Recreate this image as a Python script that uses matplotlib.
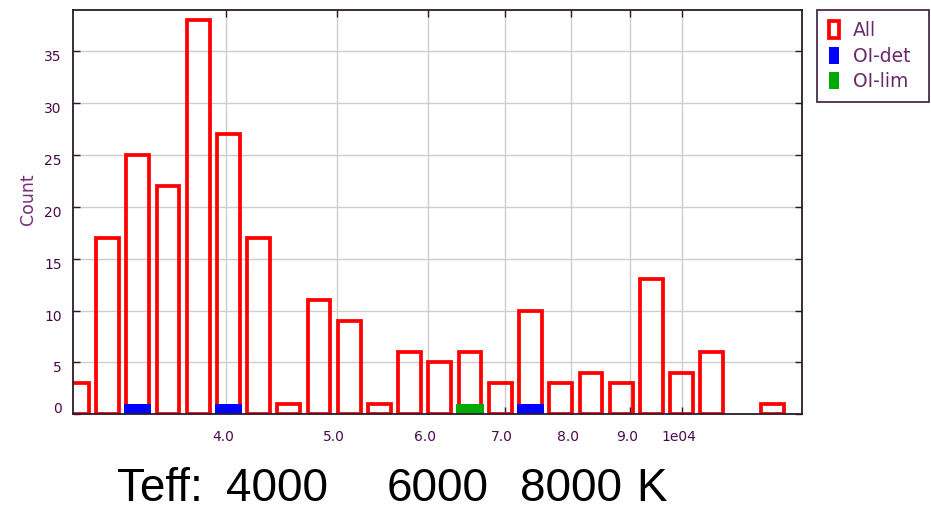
import numpy as np
import matplotlib
matplotlib.use('Agg')
import matplotlib.pyplot as plt
from matplotlib.ticker import NullLocator
from matplotlib.transforms import ScaledTranslation

# Teff histogram, bins equally spaced in log10(Teff)
LOGT_FIRST_BIN = 3.4724    # centre of first bin, log10(K)
LOGT_BIN_WIDTH = 0.02635   # dex

counts_all = [3, 17, 25, 22, 38, 27, 17, 1, 11, 9, 1, 6,
              5, 6, 3, 10, 3, 4, 3, 13, 4, 6, 0, 1]
counts_det = [0, 0, 1, 0, 0, 1, 0, 0, 0, 0, 0, 0,
              0, 0, 0, 1, 0, 0, 0, 0, 0, 0, 0, 0]
counts_lim = [0, 0, 0, 0, 0, 0, 0, 0, 0, 0, 0, 0,
              0, 1, 0, 0, 0, 0, 0, 0, 0, 0, 0, 0]
series_labels = ['All', 'OI-det', 'OI-lim']

xtick_vals = [4000, 5000, 6000, 7000, 8000, 9000, 10000]
xtick_labels = ['4.0', '5.0', '6.0', '7.0', '8.0', '9.0', '1e04']
ytick_vals = [0, 5, 10, 15, 20, 25, 30, 35]

caption_parts = ['Teff:', '4000', '6000', '8000', 'K']

W, H = 931, 512
INK = '#2a1a2a'
PURPLE = '#4a0a4a'

fig = plt.figure(figsize=(W / 100, H / 100), dpi=100)
ax = fig.add_axes([73 / W, 1 - 414.3 / H, (802 - 73) / W, (414.3 - 9.7) / H])

logc = LOGT_FIRST_BIN + LOGT_BIN_WIDTH * np.arange(len(counts_all))


def bar_edges(frac):
    lo = 10 ** (logc - frac * LOGT_BIN_WIDTH / 2)
    hi = 10 ** (logc + frac * LOGT_BIN_WIDTH / 2)
    return lo, hi - lo


def draw(counts, frac, **kw):
    counts = np.asarray(counts)
    lo, w = bar_edges(frac)
    m = counts > 0
    return ax.bar(lo[m], counts[m], width=w[m], align='edge', **kw)


b_all = draw(counts_all, 0.755, fill=False, edgecolor='#ff0000',
             linewidth=2.7, zorder=2)
b_det = draw(counts_det, 0.91, color='#0000ff', linewidth=0, zorder=3)
b_lim = draw(counts_lim, 0.91, color='#00aa00', linewidth=0, zorder=3)

ax.set_xscale('log')
ax.set_xlim(2942, 12718)
ax.set_ylim(0, 39)
ax.set_xticks(xtick_vals, xtick_labels)
ax.xaxis.set_minor_locator(NullLocator())
ax.set_yticks(ytick_vals, [str(v) for v in ytick_vals])

ax.grid(True, color='#cdcdcd', linewidth=1.0, zorder=0)
ax.set_axisbelow(True)
for s in ax.spines.values():
    s.set_color(INK)
    s.set_linewidth(1.3)
    s.set_zorder(4)

ax.tick_params(which='both', direction='in', top=True, right=True,
               length=5, width=1, color=INK, labelsize=10,
               labelcolor=PURPLE)
ax.tick_params(axis='x', pad=11.5)
ax.tick_params(axis='y', pad=8)

# nudge tick labels like the original renderer did
for lbl in ax.get_xticklabels():
    lbl.set_transform(lbl.get_transform() +
                      ScaledTranslation(-3 / 100, 0, fig.dpi_scale_trans))
for lbl, v in zip(ax.get_yticklabels(), ytick_vals):
    dy = 7 if v == 0 else -4.5
    lbl.set_transform(lbl.get_transform() +
                      ScaledTranslation(0, dy / 100, fig.dpi_scale_trans))

fig.text(27.5 / W, 1 - 199 / H, 'Count', rotation=90, ha='center',
         va='center', fontsize=12.5, color='#7a2a7a')

leg = ax.legend([b_all, b_det, b_lim], series_labels,
                bbox_to_anchor=(817.3 / W, 1 - 104.3 / H, (929 - 817.3) / W, 94.3 / H),
                bbox_transform=fig.transFigure, loc='upper left', mode='expand',
                borderaxespad=0, fontsize=13.5, handlelength=0.57,
                handleheight=1.0, handletextpad=0.75, labelspacing=0.34,
                borderpad=0.6, fancybox=False, framealpha=1,
                edgecolor='#3a1a3a', labelcolor='#6a2a6a')
leg.get_frame().set_linewidth(1.2)

# caption underneath the plot
cap_x = [117.4, 226, 386.4, 519.8, 636.6]
for txt, x in zip(caption_parts, cap_x):
    fig.text(x / W, 1 / H, txt, ha='left', va='bottom',
             fontsize=33, family='Liberation Sans', color='black')

fig.savefig('out.png', dpi=100)
